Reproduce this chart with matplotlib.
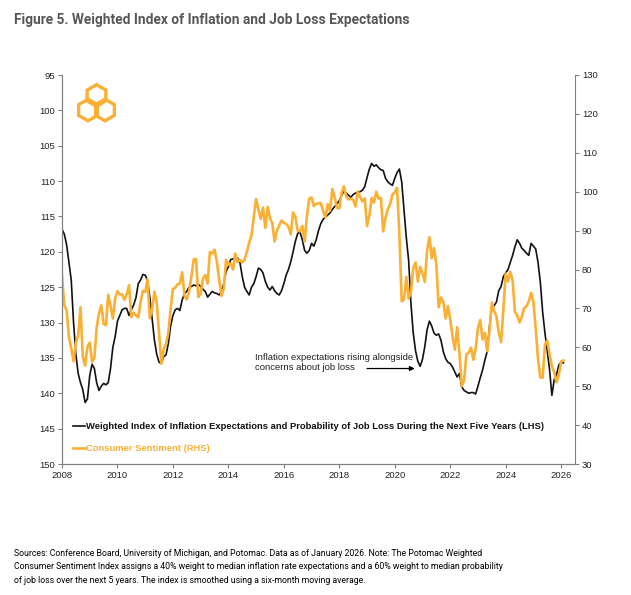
import numpy as np
import pandas as pd
import matplotlib.pyplot as plt
from matplotlib.patches import RegularPolygon

# monthly observations, Jan 2008 - Feb 2026
months = pd.date_range('2008-01-01', '2026-02-01', freq='MS')

# University of Michigan consumer sentiment (RHS)
sentiment = [
    78.4, 70.8, 69.5, 62.6, 59.8, 56.4, 61.2, 63.0, 70.3, 57.6, 55.3, 60.1,   # 2008
    61.2, 56.3, 57.3, 65.1, 68.7, 70.8, 66.0, 65.7, 73.5, 70.6, 67.4, 72.5,   # 2009
    74.4, 73.6, 73.6, 72.2, 73.6, 76.0, 67.8, 68.9, 68.2, 67.7, 71.6, 74.5,   # 2010
    74.2, 77.5, 67.5, 69.8, 74.3, 71.5, 63.7, 55.8, 59.5, 60.8, 63.7, 69.9,   # 2011
    75.0, 75.3, 76.2, 76.4, 79.3, 73.2, 72.3, 74.3, 78.3, 82.6, 82.7, 72.9,   # 2012
    73.8, 77.6, 78.6, 76.4, 84.5, 84.1, 85.1, 82.1, 77.5, 73.2, 75.1, 82.5,   # 2013
    81.2, 81.6, 80.0, 84.1, 81.9, 82.5, 81.8, 82.5, 84.6, 86.9, 88.8, 93.6,   # 2014
    98.1, 95.4, 93.0, 95.9, 90.7, 96.1, 93.1, 91.9, 87.2, 90.0, 91.3, 92.6,   # 2015
    92.0, 91.7, 91.0, 89.0, 94.7, 93.5, 90.0, 89.8, 91.2, 87.2, 93.8, 98.2,   # 2016
    98.5, 96.3, 96.9, 97.0, 97.1, 95.0, 93.4, 96.8, 95.1, 100.7, 98.5, 95.9,  # 2017
    95.7, 99.7, 101.4, 98.8, 98.0, 98.2, 97.9, 96.2, 100.1, 98.6, 97.5, 98.3, # 2018
    91.2, 93.8, 98.4, 97.2, 100.0, 98.2, 98.4, 89.8, 93.2, 95.5, 96.8, 99.3,  # 2019
    99.8, 101.0, 89.1, 71.8, 72.3, 78.1, 72.5, 74.1, 80.4, 81.8, 76.9, 80.7,  # 2020
    79.0, 76.8, 84.9, 88.3, 82.9, 85.5, 81.2, 70.3, 72.8, 71.7, 67.4, 70.6,   # 2021
    67.2, 62.8, 59.4, 65.2, 58.4, 50.0, 51.5, 58.2, 58.6, 59.9, 56.8, 59.7,   # 2022
    64.9, 67.0, 62.0, 63.7, 59.0, 64.2, 71.5, 69.4, 67.9, 63.8, 61.3, 69.7,   # 2023
    79.0, 76.9, 79.4, 77.2, 69.1, 68.2, 66.4, 67.9, 70.1, 70.5, 71.8, 74.0,   # 2024
    71.7, 64.7, 57.0, 52.2, 52.2, 60.7, 61.7, 58.2, 55.1, 53.6, 51.0, 52.9,   # 2025
    56.4, 56.6,                                                               # 2026
]

# weighted index of inflation and job loss expectations (LHS, inverted)
weighted_index = [
    116.8, 117.5, 119.0, 121.5, 124.0, 130.0, 134.5, 137.2, 138.5, 139.5, 141.3, 140.8,  # 2008
    137.5, 135.9, 136.5, 138.5, 139.6, 139.0, 138.6, 138.8, 138.5, 136.5, 133.5, 132.0,  # 2009
    129.8, 129.0, 128.2, 128.0, 128.0, 129.0, 128.2, 127.5, 126.5, 124.5, 124.0, 123.2,  # 2010
    123.3, 124.0, 126.4, 129.5, 132.5, 134.5, 135.6, 135.8, 134.8, 134.6, 133.0, 130.5,  # 2011
    129.0, 128.2, 128.0, 128.3, 126.8, 125.9, 125.6, 125.0, 124.9, 124.7, 124.8, 124.6,  # 2012
    124.9, 125.3, 125.6, 126.4, 126.0, 125.6, 125.8, 125.9, 126.1, 125.6, 124.5, 122.8,  # 2013
    122.1, 121.1, 121.0, 120.8, 120.9, 121.5, 123.5, 125.0, 125.6, 126.1, 125.0, 124.5,  # 2014
    123.5, 122.3, 122.5, 123.0, 124.2, 125.0, 125.4, 124.9, 125.5, 125.9, 126.1, 125.5,  # 2015
    124.5, 123.3, 122.5, 121.4, 120.0, 118.5, 117.4, 117.2, 118.3, 119.8, 120.2, 119.8,  # 2016
    118.8, 119.2, 118.3, 117.0, 116.0, 115.4, 115.1, 114.8, 114.5, 114.0, 113.6, 113.2,  # 2017
    112.8, 112.0, 111.4, 111.7, 112.0, 112.3, 111.9, 111.7, 111.6, 111.5, 111.3, 110.8,  # 2018
    109.5, 108.3, 107.5, 107.9, 107.7, 108.1, 108.4, 108.5, 109.6, 110.1, 110.4, 110.6,  # 2019
    109.6, 108.8, 108.3, 110.1, 114.0, 118.0, 121.2, 127.3, 131.5, 134.0, 135.5, 136.2,  # 2020
    135.2, 133.4, 131.0, 129.8, 130.5, 131.5, 131.8, 131.6, 132.5, 134.1, 135.1, 135.6,  # 2021
    135.8, 136.3, 137.0, 137.7, 137.2, 139.1, 139.6, 139.8, 140.0, 139.9, 139.9, 140.1,  # 2022
    139.0, 137.8, 136.7, 135.3, 134.1, 130.5, 128.0, 127.6, 127.1, 125.5, 124.9, 123.5,  # 2023
    123.0, 122.5, 121.5, 120.5, 119.3, 118.3, 118.8, 119.5, 119.8, 120.2, 120.5, 118.8,  # 2024
    119.2, 119.6, 121.5, 124.3, 128.5, 131.5, 134.0, 136.7, 140.3, 138.1, 137.4, 136.0,  # 2025
    135.6, 135.7,                                                                        # 2026
]

year_ticks = list(range(2008, 2027, 2))
left_ticks = list(range(95, 151, 5))
right_ticks = list(range(30, 131, 10))

ORANGE = '#FBB034'
SPINE = '#808080'

x = np.array([d.year + (d.month - 1) / 12 for d in months])

plt.rcParams['font.family'] = ['Liberation Sans', 'DejaVu Sans']

W, H = 631, 595
fig = plt.figure(figsize=(W / 100, H / 100), dpi=100)
ax = fig.add_axes([62 / W, 1 - 464 / H, (575 - 62) / W, (464 - 75) / H])
ax2 = ax.twinx()

line_idx, = ax.plot(x, weighted_index, color='#111111', lw=1.2,
                    label='Weighted Index of Inflation Expectations and Probability of '
                          'Job Loss During the Next Five Years (LHS)')
line_sent, = ax2.plot(x, sentiment, color=ORANGE, lw=1.9,
                      label='Consumer Sentiment (RHS)')

ax.set_xlim(2008, 2026.5)
ax.set_ylim(150, 95)
ax2.set_ylim(30, 130)
ax.set_xticks(year_ticks)
ax.set_yticks(left_ticks)
ax2.set_yticks(right_ticks)

for a in (ax, ax2):
    a.spines['top'].set_visible(False)
    for s in ('left', 'right', 'bottom'):
        a.spines[s].set_color(SPINE)
        a.spines[s].set_linewidth(0.8)
    a.tick_params(direction='out', length=3, width=0.8, color=SPINE,
                  labelsize=6.8, labelcolor='#222222', pad=2)
ax.spines['right'].set_visible(False)

# annotation
ax.text(2014.95, 135.7, 'Inflation expectations rising alongside\nconcerns about job loss',
        fontsize=6.8, va='center', ha='left', color='#222222', linespacing=1.15)
ax.annotate('', xy=(2020.72, 136.5), xytext=(2019.0, 136.5),
            arrowprops=dict(arrowstyle='-|>', color='black', lw=0.9,
                            mutation_scale=7, shrinkA=0, shrinkB=0))

leg = ax2.legend(handles=[line_idx, line_sent], loc='lower left',
                 bbox_to_anchor=(0.021, 0.028), frameon=False,
                 prop={'weight': 'bold', 'size': 6.75}, handlelength=1.3,
                 handletextpad=0.15, labelspacing=1.35, borderpad=0,
                 borderaxespad=0)
leg.get_texts()[0].set_color('#111111')
leg.get_texts()[1].set_color(ORANGE)

# logo: three linked hexagons
logo = fig.add_axes([75 / W, 1 - 125 / H, 44 / W, 44 / H])
logo.set_xlim(75, 119)
logo.set_ylim(125, 81)
logo.axis('off')
for cx, cy in [(88.0, 110.0), (105.0, 110.0), (96.5, 95.5)]:
    logo.add_patch(RegularPolygon((cx, cy), numVertices=6, radius=10.8,
                                  fill=False, edgecolor=ORANGE, lw=2.4))

fig.text(14 / W, 1 - 20 / H,
         'Figure 5. Weighted Index of Inflation and Job Loss Expectations',
         fontsize=9.9, fontweight='bold', color='#575757', va='center',
         family=['Roboto', 'DejaVu Sans'])

footer = ('Sources: Conference Board, University of Michigan, and Potomac. Data as of January 2026. '
          'Note: The Potomac Weighted\n'
          'Consumer Sentiment Index assigns a 40% weight to median inflation rate expectations '
          'and a 60% weight to median probability\n'
          'of job loss over the next 5 years. The index is smoothed using a six-month moving average.')
fig.text(14 / W, 1 - 549 / H, footer, fontsize=6.3, color='#000000', va='top',
         linespacing=1.62, family=['Roboto', 'DejaVu Sans'])

fig.savefig('out.png', dpi=100)
